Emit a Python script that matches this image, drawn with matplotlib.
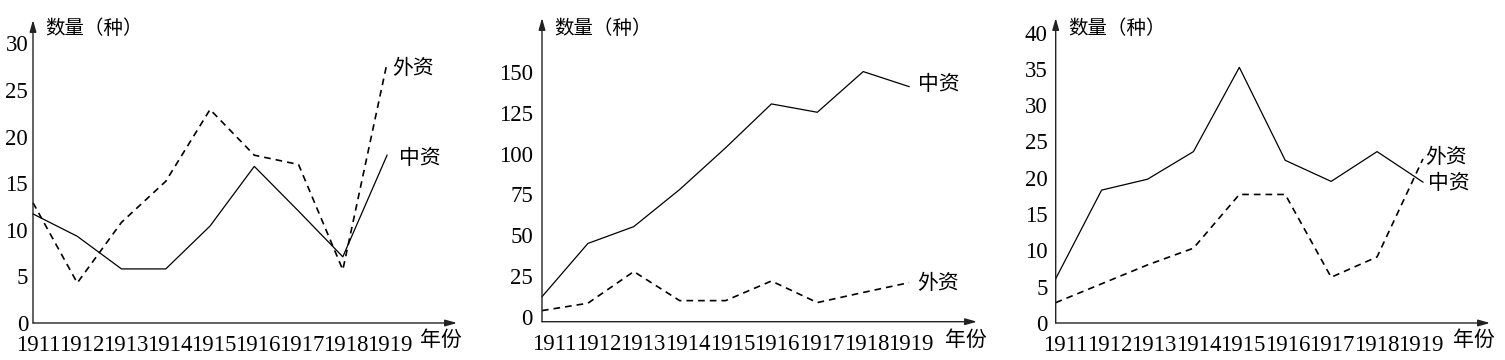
import numpy as np
import matplotlib.pyplot as plt

plt.rcParams['font.family'] = ['Liberation Serif', 'Noto Sans CJK SC']

years = ['1911', '1912', '1913', '1914', '1915', '1916', '1917', '1918', '1919']

# 图1
zhong1 = [11.7, 9.3, 5.8, 5.8, 10.4, 16.8, 12.0, 7.1, 18.0]
wai1 = [12.9, 4.3, 10.8, 15.2, 22.9, 18.0, 17.0, 5.7, 27.9]
# 图2
zhong2 = [12.4, 45, 55.3, 78, 103.5, 130.4, 125.3, 150.2, 141]
wai2 = [3.9, 8.4, 27.8, 10, 10, 22, 8.8, 15, 21]
# 图3
zhong3 = [6.1, 18.3, 19.8, 23.6, 35.2, 22.4, 19.5, 23.6, 19.4]
wai3 = [2.8, 5.4, 8.0, 10.3, 17.7, 17.7, 6.3, 9.1, 22.6]

W, H = 1505, 360
fig = plt.figure(figsize=(W/100, H/100), dpi=100)

cjk = ['Noto Sans CJK SC', 'Liberation Serif']

def panel(rect, xmax, ylim, yticks, ypad, xt, zhong, wai, lab_z, lab_w, ylab_x, nian_x):
    ax = fig.add_axes([rect[0]/W, rect[1]/H, rect[2]/W, rect[3]/H])
    x = np.arange(len(years))
    ax.plot(x, zhong, color='k', lw=0.9, clip_on=False)
    ax.plot(x, wai, color='k', lw=1.2, ls=(0, (4, 3)), clip_on=False)
    ax.set_xlim(0, xmax)
    ax.set_ylim(*ylim)
    ax.set_yticks(yticks)
    ax.set_xticks(np.linspace(xt[0], xt[1], 9))
    ax.set_xticklabels(years)
    ax.tick_params(length=0, labelsize=16.5)
    ax.tick_params(axis='y', pad=ypad)
    ax.tick_params(axis='x', pad=8.5)
    for s in ax.spines.values():
        s.set_visible(False)
    ax.annotate('', xy=(1, 0), xytext=(0, 0), xycoords='axes fraction',
                arrowprops=dict(arrowstyle='-|>,head_length=0.7,head_width=0.2',
                                lw=1.0, color='#222222', shrinkA=0, shrinkB=0))
    ax.annotate('', xy=(0, 1), xytext=(0, 0), xycoords='axes fraction',
                arrowprops=dict(arrowstyle='-|>,head_length=0.7,head_width=0.2',
                                lw=1.0, color='#222222', shrinkA=0, shrinkB=0))
    ax.text(lab_z[0], lab_z[1], '中资', family=cjk, fontsize=15, va='center', ha='left')
    ax.text(lab_w[0], lab_w[1], '外资', family=cjk, fontsize=15, va='center', ha='left')
    fig.text(ylab_x/W, 1 - 29/H, '数量（种）', family=cjk, fontsize=14, va='center', ha='left')
    fig.text(nian_x/W, 1 - 340/H, '年份', family=cjk, fontsize=15, va='center', ha='left')
    return ax

panel([33, 37, 424, 303], 9.58, (0, 32.5), range(0, 31, 5), 3.5, (0.11, 8.06),
      zhong1, wai1, (8.27, 17.7), (8.11, 27.3), 45, 420)
panel([542, 38.3, 435, 303.7], 9.48, (-2.9, 183), range(0, 151, 25), 6.5, (0.26, 8.04),
      zhong2, wai2, (8.19, 142.7), (8.17, 20.8), 554, 945)
panel([1055.7, 37, 434.3, 305], 9.46, (0, 42), range(0, 41, 5), 5.8, (0.2, 7.96),
      zhong3, wai3, (8.11, 19.3), (8.05, 22.8), 1068, 1453)

fig.savefig('out.png', dpi=100)
